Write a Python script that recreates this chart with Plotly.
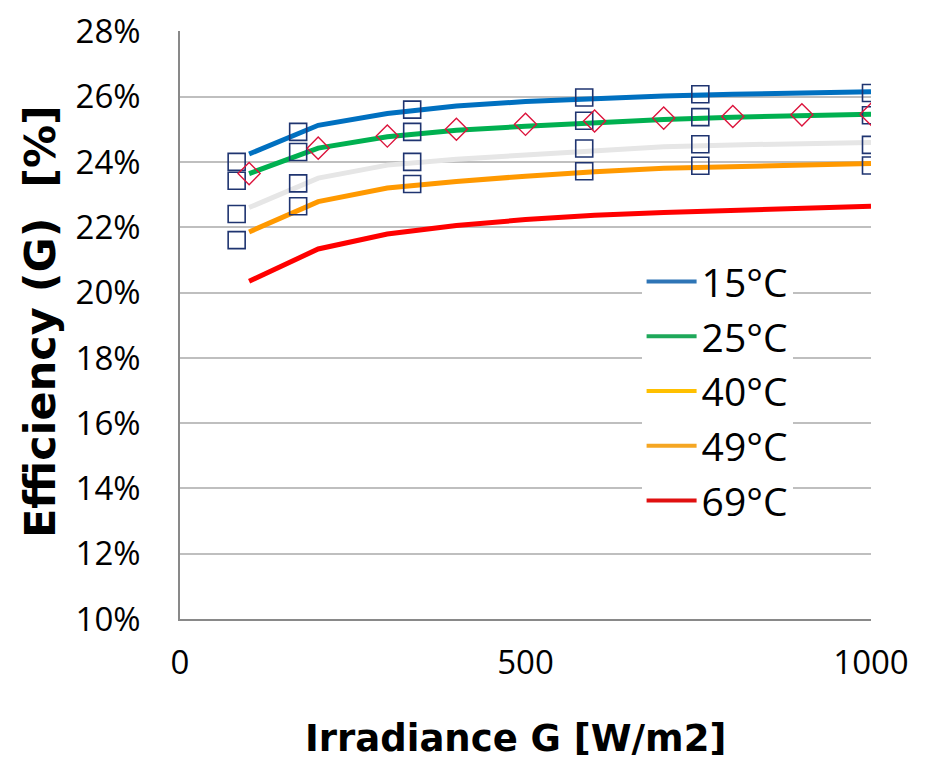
import plotly.graph_objects as go

G = [100, 200, 300, 400, 500, 600, 700, 800, 900, 1000]
eff_15 = [24.25, 25.13, 25.49, 25.72, 25.86, 25.96, 26.03, 26.08, 26.12, 26.16]
eff_25 = [23.65, 24.43, 24.78, 24.98, 25.10, 25.22, 25.31, 25.38, 25.43, 25.47]
eff_40 = [22.61, 23.51, 23.91, 24.09, 24.22, 24.36, 24.47, 24.53, 24.57, 24.60]
eff_49 = [21.86, 22.79, 23.21, 23.41, 23.57, 23.71, 23.81, 23.87, 23.92, 23.96]
eff_69 = [20.35, 21.34, 21.80, 22.06, 22.24, 22.37, 22.46, 22.53, 22.60, 22.65]

diam_x = [100, 200, 300, 400, 500, 600, 700, 800, 900, 1000]
diam_y = [23.65, 24.43, 24.80, 25.01, 25.16, 25.26, 25.35, 25.40, 25.45, 25.47]

sq_x = [82, 82, 82, 82, 171, 171, 171, 171, 336, 336, 336, 336,
        585, 585, 585, 585, 753, 753, 753, 753, 1000, 1000, 1000, 1000]
sq_y = [24.01, 23.43, 22.41, 21.61, 24.93, 24.31, 23.35, 22.65,
        25.61, 24.93, 24.01, 23.33, 25.98, 25.27, 24.42, 23.72,
        26.08, 25.38, 24.55, 23.89, 26.12, 25.44, 24.53, 23.90]

y_tick_vals = [10, 12, 14, 16, 18, 20, 22, 24, 26, 28]
y_tick_text = ["10%", "12%", "14%", "16%", "18%", "20%", "22%", "24%", "26%", "28%"]
x_tick_vals = [0, 500, 1000]

labels = ["15°C", "25°C", "40°C", "49°C", "69°C"]
line_colors = ["#0070c0", "#00b050", "#e6e6e6", "#ff9900", "#ff0000"]
legend_colors = ["#2e75b6", "#1ea85a", "#ffc000", "#f5a623", "#e01010"]
series = [eff_15, eff_25, eff_40, eff_49, eff_69]

x_title = "<b>Irradiance G [W/m2]</b>"
y_title = "<b>Efficiency (G) \u00a0[%]</b>"

fig = go.Figure()

for lab, col, ys in zip(labels, line_colors, series):
    fig.add_trace(go.Scatter(x=G, y=ys, mode="lines", name=lab,
                             line=dict(color=col, width=5),
                             showlegend=False, hoverinfo="skip"))

fig.add_trace(go.Scatter(x=sq_x, y=sq_y, mode="markers", showlegend=False,
                         marker=dict(symbol="square-open", size=17,
                                     color="#1f3470", line=dict(width=1.6))))
fig.add_trace(go.Scatter(x=diam_x, y=diam_y, mode="markers", showlegend=False,
                         marker=dict(symbol="diamond-open", size=17,
                                     color="#dc143c", line=dict(width=1.4))))

# legend entries
for i, (lab, col) in enumerate(zip(labels, legend_colors)):
    fig.add_trace(go.Scatter(x=[None], y=[None], mode="lines", name=lab,
                             legendgroup=f"g{i}",
                             line=dict(color=col, width=4)))

# page body has an 8px margin: figure offset so plot area lands at the reference spot
fig.update_layout(
    width=925, height=753,
    margin=dict(l=172, r=62, t=23, b=142),
    paper_bgcolor="white", plot_bgcolor="white",
    font=dict(family="Open Sans", color="#000000"),
    legend=dict(x=0.668, y=0.628, xanchor="left", yanchor="top",
                bgcolor="white", font=dict(size=39, family="Open Sans"),
                tracegroupgap=1, itemwidth=50),
    annotations=[
        dict(text=x_title, xref="paper", yref="paper", x=0.485, y=-0.2024,
             xanchor="center", yanchor="middle", showarrow=False,
             font=dict(size=37, family="DejaVu Sans", color="#000000")),
        dict(text=y_title, xref="paper", yref="paper", x=-0.2026, y=0.505,
             xanchor="center", yanchor="middle", showarrow=False, textangle=-90,
             font=dict(size=43, family="DejaVu Sans", color="#000000")),
    ],
)

fig.update_xaxes(range=[0, 1000], tickvals=x_tick_vals,
                 showgrid=False, zeroline=False, automargin=False,
                 showline=True, linecolor="#898989", linewidth=1.5,
                 ticks="", tickfont=dict(size=33, family="Open Sans"),
                 ticklabelstandoff=14, ticklabeloverflow="allow")
fig.update_yaxes(range=[10, 28.02], tickvals=y_tick_vals, ticktext=y_tick_text,
                 showgrid=True, gridcolor="#bfbfbf", gridwidth=1.5,
                 zeroline=False, automargin=False,
                 showline=True, linecolor="#898989", linewidth=1.5,
                 ticks="", tickfont=dict(size=33, family="Open Sans"),
                 ticklabelstandoff=31, ticklabeloverflow="allow")

fig.write_html("out.html")
